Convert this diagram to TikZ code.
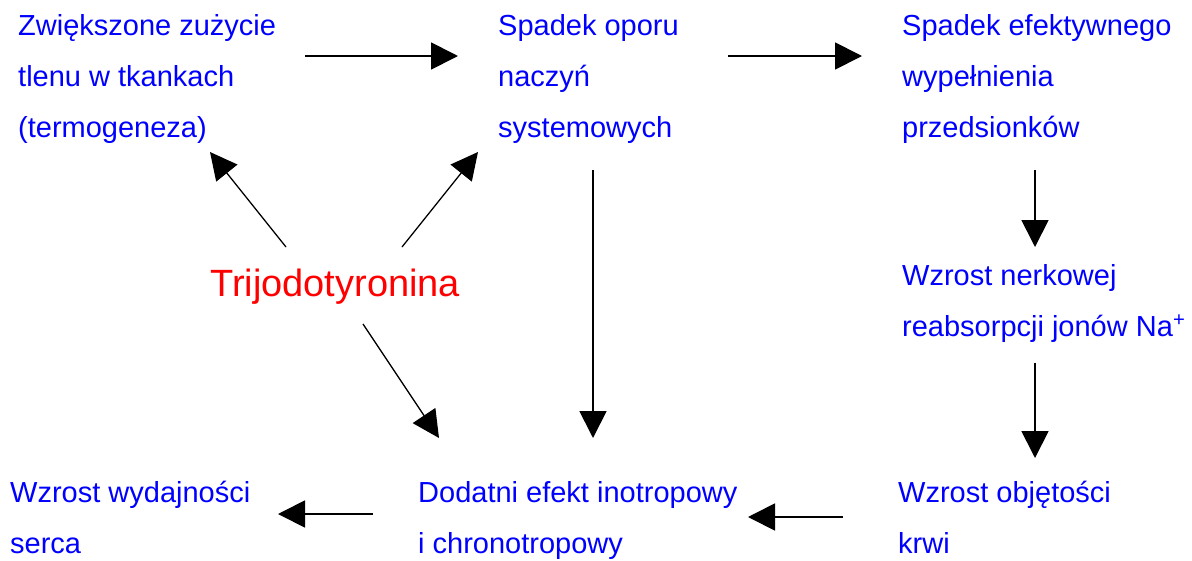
\documentclass[tikz,border=0pt]{standalone}
\usepackage{fontspec}
\setmainfont{Liberation Sans}
\usetikzlibrary{arrows.meta}
\definecolor{txtblue}{RGB}{0,0,255}
\definecolor{txtred}{RGB}{255,0,0}
\begin{document}
\begin{tikzpicture}[x=1pt,y=-1pt,
  lbl/.style={font=\fontsize{29}{51}\selectfont, text=txtblue, align=left, inner sep=0pt, anchor=base west},
  conn/.style={line width=1.8pt, -{Triangle[length=27pt,width=27pt]}},
  diag/.style={line width=1.3pt, -{Triangle[length=27pt,width=27pt]}}]
\useasboundingbox[fill=white] (0,0) rectangle (1192,560);
% text blocks (anchored at the baseline of their last line)
\node[lbl] (zuz) at (18,137) {Zwiększone zużycie\\tlenu w tkankach\\(termogeneza)};
\node[lbl] (opor) at (498,137) {Spadek oporu\\naczyń\\systemowych};
\node[lbl] (wyp) at (902,137) {Spadek efektywnego\\wypełnienia\\przedsionków};
\node[lbl] (nerk) at (902,336) {Wzrost nerkowej\\reabsorpcji jonów Na\textsuperscript{+}};
\node[lbl] (krew) at (898,553) {Wzrost objętości\\krwi};
\node[lbl] (inot) at (418,553) {Dodatni efekt inotropowy\\i chronotropowy};
\node[lbl] (serce) at (10,553) {Wzrost wydajności\\serca};
\node[font=\fontsize{38}{44}\selectfont, text=txtred, inner sep=0pt, anchor=base west] (t3) at (210,296) {Trijodotyronina};
% connector end points
\coordinate (a1s) at (305,56);  \coordinate (a1e) at (458,56);
\coordinate (a2s) at (728,56);  \coordinate (a2e) at (862,56);
\coordinate (a3s) at (1035,170); \coordinate (a3e) at (1035,247);
\coordinate (a4s) at (1035,363); \coordinate (a4e) at (1035,458);
\coordinate (a5s) at (843,517); \coordinate (a5e) at (748,517);
\coordinate (a6s) at (373,514); \coordinate (a6e) at (278,514);
\coordinate (a7s) at (593,170); \coordinate (a7e) at (593,438);
\coordinate (d1s) at (286,247); \coordinate (d1e) at (210,152);
\coordinate (d2s) at (402,247); \coordinate (d2e) at (478,152);
\coordinate (d3s) at (363,324); \coordinate (d3e) at (439,438);
% connectors
\draw[conn] (a1s) -- (a1e);
\draw[conn] (a2s) -- (a2e);
\draw[conn] (a3s) -- (a3e);
\draw[conn] (a4s) -- (a4e);
\draw[conn] (a5s) -- (a5e);
\draw[conn] (a6s) -- (a6e);
\draw[conn] (a7s) -- (a7e);
\draw[diag] (d1s) -- (d1e);
\draw[diag] (d2s) -- (d2e);
\draw[diag] (d3s) -- (d3e);
\end{tikzpicture}
\end{document}
